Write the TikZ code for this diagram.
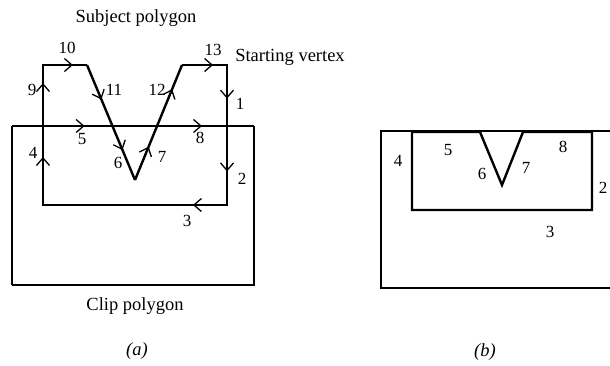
\documentclass[tikz,border=0pt]{standalone}
\usepackage{fontspec}
\setmainfont{Liberation Serif}
\usetikzlibrary{arrows.meta,decorations.markings}
\tikzset{
  barb/.tip={Straight Barb[length=7.5pt,width=13pt,line width=1.3pt]},
  arr/.style={postaction={decorate,decoration={markings,mark=at position #1 with {\arrow{barb}}}}},
  subj/.style={line width=2.4pt,line join=miter},
  clipp/.style={line width=1.5pt},
  lab/.style={inner sep=0pt,font=\fontsize{17}{19}\selectfont},
  txt/.style={inner sep=0pt,font=\fontsize{18.5}{21}\selectfont},
}
\begin{document}
\begin{tikzpicture}[x=1pt,y=-1pt]
\useasboundingbox[fill=white] (0,0) rectangle (610,365);
% ---------- (a) ----------
\coordinate (c1) at (12,126);
\coordinate (c2) at (254,126);
\coordinate (c3) at (254,285);
\coordinate (c4) at (12,285);
\draw[clipp] (c4) -- (c1);
\draw[clipp,arr=0.30,arr=0.785] (c1) -- (c2);
\draw[clipp] (c2) -- (c3) -- (c4);
\coordinate (s1) at (43,205);
\coordinate (s2) at (43,65);
\coordinate (s3) at (87,65);
\coordinate (s4) at (135,180);
\coordinate (s5) at (182,65);
\coordinate (s6) at (227,65);
\coordinate (s7) at (227,205);
\draw[subj,arr=0.343,arr=0.871] (s1) -- (s2);
\draw[subj,arr=0.68] (s2) -- (s3);
\draw[subj,arr=0.30,arr=0.74] (s3) -- (s4);
\draw[subj,arr=0.29,arr=0.79] (s4) -- (s5);
\draw[subj,arr=0.69] (s5) -- (s6);
\draw[subj,arr=0.24,arr=0.76] (s6) -- (s7);
\draw[subj,arr=0.185] (s7) -- (s1);
\draw[subj,line cap=rect] (s2) -- ++(0,0.01);
\draw[subj,line cap=rect] (s6) -- ++(0,0.01);
\draw[subj,line cap=rect] (s7) -- ++(0,-0.01);
\draw[subj,line cap=rect] (s1) -- ++(0,-0.01);
\node[txt] (tsub) at (136,18) {Subject polygon};
\node[txt] (tstart) at (290,57) {Starting vertex};
\node[txt] (tclip) at (135,306) {Clip polygon};
\node[txt] (ta) at (137,351) {\itshape (a)};
\node[lab] (l10) at (67,48) {10};
\node[lab] (l13) at (213,50) {13};
\node[lab] (l9) at (32,90) {9};
\node[lab] (l11) at (114,90) {11};
\node[lab] (l12) at (157,90) {12};
\node[lab] (l1) at (240,104) {1};
\node[lab] (l5) at (82,139) {5};
\node[lab] (l8) at (200,138) {8};
\node[lab] (l4) at (33,153) {4};
\node[lab] (l6) at (118,163) {6};
\node[lab] (l7) at (162,157) {7};
\node[lab] (l2) at (242,179) {2};
\node[lab] (l3) at (187,221) {3};
% ---------- (b) ----------
\coordinate (d1) at (381,131);
\coordinate (d2) at (610,131);
\coordinate (d3) at (610,288);
\coordinate (d4) at (381,288);
\draw[clipp] (d2) -- (d1) -- (d4) -- (d3);
\coordinate (r1) at (412,132);
\coordinate (r2) at (480,132);
\coordinate (r3) at (502,185);
\coordinate (r4) at (523,132);
\coordinate (r5) at (592,132);
\coordinate (r6) at (592,210);
\coordinate (r7) at (412,210);
\draw[subj] (r1) -- (r2) -- (r3) -- (r4) -- (r5) -- (r6) -- (r7) -- cycle;
\node[lab] (m4) at (398,161) {4};
\node[lab] (m5) at (448,150) {5};
\node[lab] (m8) at (563,147) {8};
\node[lab] (m6) at (482,174) {6};
\node[lab] (m7) at (526,168) {7};
\node[lab] (m2) at (603,188) {2};
\node[lab] (m3) at (550,232) {3};
\node[txt] (tb) at (485,352) {\itshape (b)};
\end{tikzpicture}
\end{document}
